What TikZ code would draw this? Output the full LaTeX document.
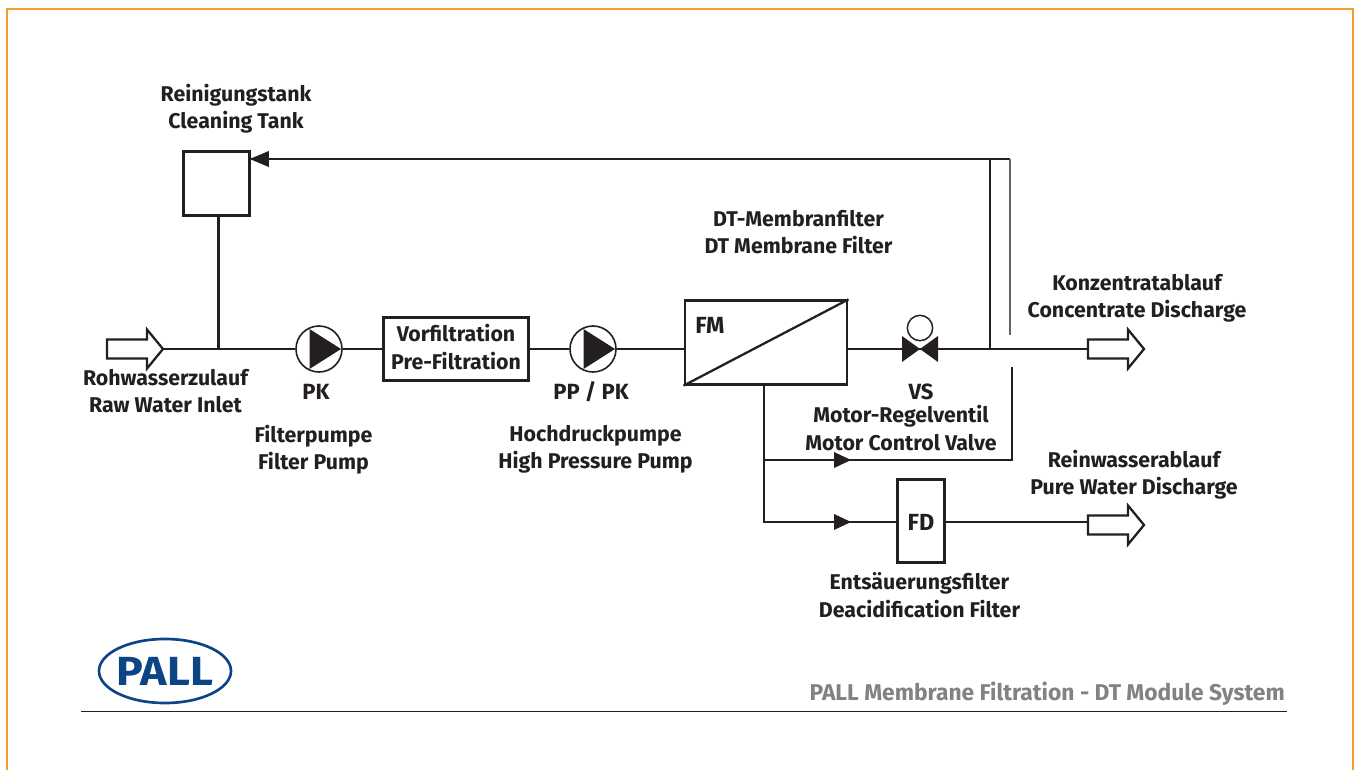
\documentclass[tikz,border=0pt]{standalone}
\usepackage{fontspec}
\setmainfont{Fira Sans}[BoldFont={Fira Sans Bold}]
\usetikzlibrary{arrows.meta,calc,shapes.geometric}
\definecolor{ink}{HTML}{231F20}
\definecolor{frameor}{HTML}{F0A030}
\definecolor{pallblue}{HTML}{0B4586}
\definecolor{foot}{HTML}{808285}
\tikzset{
 x=0.75pt,y=-0.75pt,
 pipe/.style={draw=ink,line width=1.7pt},
 boxn/.style={draw=ink,line width=2.2pt,fill=white,inner sep=0pt},
 lab/.style={inner sep=0pt,font=\fontsize{16}{20.5}\selectfont\bfseries,align=center,text=ink},
 biglab/.style={inner sep=0pt,font=\fontsize{16.5}{20}\selectfont\bfseries,text=ink},
 tag/.style={inner sep=0pt,font=\fontsize{17.5}{20}\selectfont\bfseries,text=ink},
 pumpc/.style={circle,draw=ink,line width=1.2pt,fill=white,minimum size=34.5pt,inner sep=0pt},
 hollow/.style={draw=ink,line width=1.7pt,fill=white,line join=miter},
}
\newcommand{\bigarrow}[1]{%
 \draw[hollow] ($(#1)+(-56,-9.5)$) -- ++(40,0) -- ++(0,-10) -- ($(#1)+(0,0)$) -- ($(#1)+(-16,19.5)$) -- ++(0,-10) -- ++(-40,0) -- cycle;}
\newcommand{\pumptri}[1]{\fill[ink] ($(#1)+(-9.5,-20)$) -- ($(#1)+(22,0)$) -- ($(#1)+(-9.5,20)$) -- cycle;}
\newcommand{\flowtip}[1]{\fill[ink] ($(#1)+(-9,-8)$) -- ($(#1)+(8,0)$) -- ($(#1)+(-9,8)$) -- cycle;}
\begin{document}
\begin{tikzpicture}
\useasboundingbox (0,0) rectangle (1359,770);
\fill[white] (0,0) rectangle (1359,770);
\draw[frameor,line width=1pt] (7,775) -- (7,9) -- (1353,9) -- (1353,775);

% coordinates
\coordinate (inA) at (163,349);
\coordinate (teeA) at (218.5,349);
\coordinate (outA) at (1144,349);
\coordinate (outB) at (1144,525);
\coordinate (outBp) at (1089,522);
\coordinate (teeB) at (990,349);
\coordinate (topB) at (990,159);
\coordinate (topC) at (1010,159);
\coordinate (endC) at (1010,335);
\coordinate (stubT) at (1012,367);
\coordinate (stubB) at (1012,460);
\coordinate (drop) at (764,385);
\coordinate (teeC) at (764,460);
\coordinate (cornD) at (764,522);
\coordinate (tipC) at (843,460);
\coordinate (tipD) at (843,522);
\coordinate (vlv) at (920,349);

% nodes
\node[boxn,minimum width=50pt,minimum height=48pt] (tank) at (216.5,183.5) {};
\node[boxn,minimum width=109pt,minimum height=47.5pt] (pre) at (456,349) {};
\node[lab] (pret) at (456,347) {Vorfiltration\\Pre-Filtration};
\node[boxn,minimum width=121.5pt,minimum height=62.5pt] (fm) at (766,342.5) {};
\node[tag,anchor=west] (fmt) at (695,325) {FM};
\node[boxn,minimum width=35.5pt,minimum height=62pt] (fd) at (921,521) {};
\node[tag] (fdt) at (921,522) {FD};
\node[pumpc] (pk) at (319,349) {};
\node[pumpc] (pp) at (593,349) {};
\node[circle,draw=ink,line width=1.1pt,fill=white,minimum size=19pt,inner sep=0pt] (mot) at (920,328) {};

% pipes
\draw[pipe] (inA) -- (pk.west);
\draw[pipe] (pk.east) -- (pre.west |- pk.east);
\draw[pipe] (pre.east |- pp.west) -- (pp.west);
\draw[pipe] (pp.east) -- (fm.west |- pp.east);
\draw[pipe] (fm.east |- vlv) -- (vlv);
\draw[pipe] (vlv) -- (outA);
\draw[pipe] (teeA) -- (teeA |- tank.south);
\draw[pipe] (teeB) -- (topB) -- (tank.east |- topB);
\draw[pipe] (topB) -- (topC);
\draw[draw=ink!70,line width=0.9pt] (topC) -- (endC);
\draw[pipe] (stubT) -- (stubB) -- (teeC);
\draw[pipe] (drop) -- (cornD) -- (fd.west |- cornD);
\draw[pipe] (fd.east |- outBp) -- (outBp);

% diagonal in membrane filter
\draw[draw=ink,line width=1.7pt] (fm.south west) -- (fm.north east);

% pump triangles and flow tips
\pumptri{pk}
\pumptri{pp}
\fill[ink] ($(tank.east |- topB)+(-1.5,0)$) -- ++(19,-8) -- ++(0,16) -- cycle;
\flowtip{tipC}
\flowtip{tipD}
% valve
\fill[ink] (vlv) -- ($(vlv)+(-18,-13)$) -- ($(vlv)+(-18,13)$) -- cycle;
\fill[ink] (vlv) -- ($(vlv)+(18,-13)$) -- ($(vlv)+(18,13)$) -- cycle;

% large arrows
\bigarrow{inA}
\bigarrow{outA}
\bigarrow{outB}

% labels
\node[lab] (l1) at (236,109) {Reinigungstank\\Cleaning Tank};
\node[lab] (l2) at (798.5,232) {DT-Membranfilter\\DT Membrane Filter};
\node[lab] (l3) at (1137,298) {Konzentratablauf\\Concentrate Discharge};
\node[lab] (l4) at (165.5,391) {Rohwasserzulauf\\Raw Water Inlet};
\node[biglab] (l5) at (316,392) {PK};
\node[lab] (l6) at (313.5,450) {Filterpumpe\\Filter Pump};
\node[biglab] (l7) at (591,392) {PP / PK};
\node[lab] (l8) at (595.5,449.5) {Hochdruckpumpe\\High Pressure Pump};
\node[biglab] (l9) at (921,392) {VS};
\node[lab] (l10) at (901,428) {Motor-Regelventil\\Motor Control Valve};
\node[lab] (l11) at (1134,475) {Reinwasserablauf\\Pure Water Discharge};
\node[lab] (l12) at (919.5,595) {Entsäuerungsfilter\\Deacidification Filter};

% logo
\node[ellipse,draw=pallblue,line width=2pt,minimum width=99pt,minimum height=48pt,inner sep=0pt] (logo) at (165,671) {};
\node[inner sep=0pt,text=pallblue,xscale=1.1,font=\fontsize{30.5}{30.5}\selectfont\bfseries] (logot) at (165,671) {PALL};

% footer
\node[inner sep=0pt,anchor=east,text=foot,font=\fontsize{17.1}{20}\selectfont\bfseries] (foot) at (1285,694) {PALL Membrane Filtration - DT Module System};
\coordinate (ruleL) at (81,711.5);
\coordinate (ruleR) at (1287,711.5);
\draw[ink,line width=1pt] (ruleL) -- (ruleR);
\end{tikzpicture}
\end{document}
